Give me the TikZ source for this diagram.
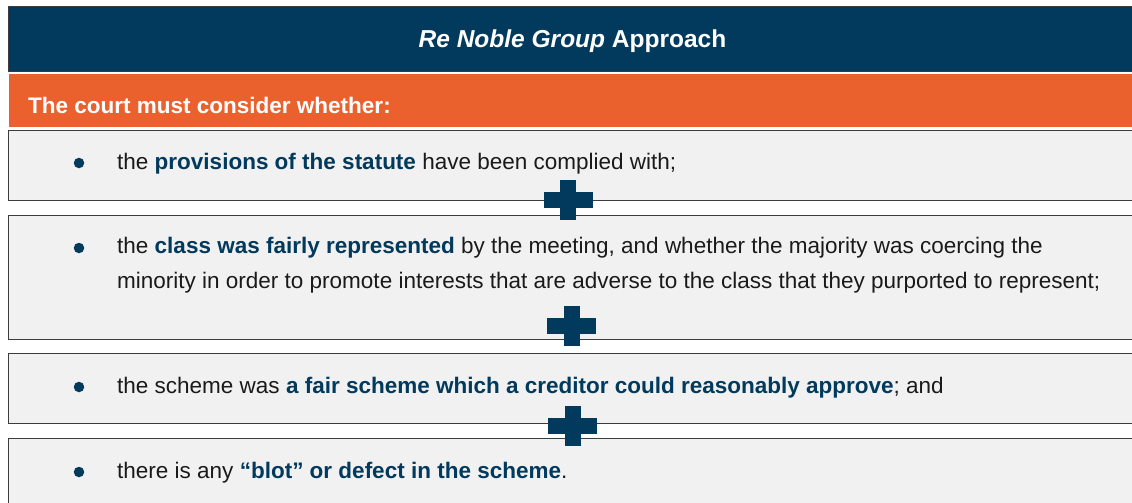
\documentclass[tikz,border=0pt]{standalone}
\usepackage{fontspec}
\setmainfont{Liberation Sans}
\usetikzlibrary{positioning}
\definecolor{CourtNavy}{HTML}{023A5D}
\definecolor{CourtOrange}{HTML}{EB612E}
\definecolor{CourtPanel}{HTML}{F1F1F1}
\definecolor{CourtEdge}{HTML}{3C3C3C}
\definecolor{CourtInk}{HTML}{1A1A1A}

\tikzset{
  band/.style={rectangle, anchor=north west, minimum width=1129pt, inner sep=0pt},
  testbox/.style={band, draw=CourtEdge, line width=0.8pt, fill=CourtPanel},
  bulletdot/.style={circle, fill=CourtNavy, minimum size=10.5pt, inner sep=0pt},
  itemtext/.style={anchor=base west, inner sep=0pt, text=CourtInk,
                   font=\fontsize{22.5}{35}\selectfont},
  crossbar/.style={rectangle, fill=CourtNavy, inner sep=0pt},
}
\newcommand{\key}[1]{\textbf{\color{CourtNavy}#1}}

\begin{document}
\begin{tikzpicture}[x=1pt, y=-1pt]
  \useasboundingbox (0,0) rectangle (1132,503);
  \clip (0,0) rectangle (1132,503);

  % header bands
  \node[band, draw=CourtEdge, line width=0.8pt, fill=CourtNavy, minimum height=65pt] (title) at (8,6) {};
  \node[anchor=base, text=white, font=\fontsize{24.5}{29}\selectfont\bfseries] (titletext) at (572.5,47.5)
       {\itshape Re Noble Group\upshape\ Approach};
  \node[band, fill=CourtOrange, minimum height=53pt] (lead) at (9,74) {};
  \node[anchor=base west, inner sep=0pt, text=white, font=\fontsize{22.5}{29}\selectfont\bfseries] (leadtext) at (28,113)
       {The court must consider whether:};

  % the four tests
  \node[testbox, minimum height=70pt] (cond1) at (8,130) {};
  \node[testbox, minimum height=124pt] (cond2) at (8,215) {};
  \node[testbox, minimum height=70pt] (cond3) at (8,353) {};
  \node[testbox, minimum height=80pt] (cond4) at (8,438) {};

  \node[bulletdot] (dot1) at (79,163) {};
  \node[itemtext] (item1) at (117,169)
       {the \key{provisions of the statute} have been complied with;};
  \node[bulletdot] (dot2) at (79,248) {};
  % two lines: the base anchor sits on the last one
  \node[itemtext, align=left] (item2) at (117,288)
       {the \key{class was fairly represented} by the meeting, and whether the majority was coercing the\\
        minority in order to promote interests that are adverse to the class that they purported to represent;};
  \node[bulletdot] (dot3) at (79,387) {};
  \node[itemtext] (item3) at (117,393)
       {the scheme was \key{a fair scheme which a creditor could reasonably approve}; and};
  \node[bulletdot] (dot4) at (79,472) {};
  \node[itemtext] (item4) at (117,478)
       {there is any \key{``blot'' or defect in the scheme}.};

  % plus marks between the boxes
  \coordinate (plusA) at (568,199.5);
  \coordinate (plusB) at (571.5,325.5);
  \coordinate (plusC) at (572.5,426);
  \foreach \p in {plusA,plusB,plusC} {
    \node[crossbar, minimum width=49pt, minimum height=16pt] at (\p) {};
    \node[crossbar, minimum width=16pt, minimum height=40pt] at (\p) {};
  }
\end{tikzpicture}
\end{document}
